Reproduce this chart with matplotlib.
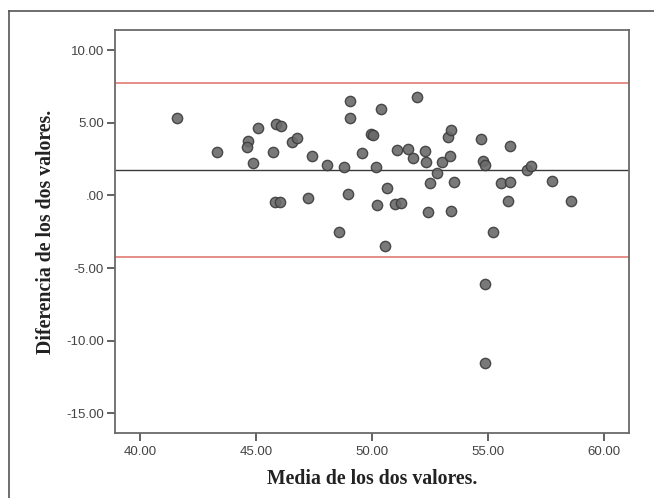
import matplotlib
matplotlib.use('Agg')
import matplotlib.pyplot as plt
from matplotlib.lines import Line2D

# Bland-Altman: media vs diferencia de los dos valores
media = [41.59, 43.34, 44.66, 44.60, 44.88, 45.07, 45.75, 45.87, 46.10, 45.82,
         46.02, 46.55, 46.78, 47.24, 47.44, 48.05, 48.57, 48.82, 48.96, 49.05,
         49.05, 49.56, 49.96, 50.07, 50.19, 50.21, 50.42, 50.55, 50.67, 51.00,
         51.26, 51.10, 51.58, 51.78, 51.95, 52.31, 52.32, 52.44, 52.52, 52.82,
         53.05, 53.30, 53.36, 53.42, 53.44, 53.56, 54.70, 54.78, 54.90, 54.90,
         54.90, 55.24, 55.58, 55.89, 55.95, 55.97, 56.71, 56.88, 57.76, 58.59]
diferencia = [5.32, 2.96, 3.78, 3.35, 2.22, 4.61, 3.00, 4.93, 4.77, -0.48,
              -0.46, 3.69, 3.94, -0.21, 2.71, 2.09, -2.55, 1.95, 0.11, 6.47,
              5.30, 2.94, 4.24, 4.15, 1.93, -0.69, 5.96, -3.46, 0.48, -0.60,
              -0.55, 3.14, 3.19, 2.55, 6.79, 3.05, 2.27, -1.17, 0.87, 1.51,
              2.27, 3.99, 2.68, 4.52, -1.06, 0.94, 3.88, 2.39, 2.06, -6.12,
              -11.51, -2.55, 0.87, -0.41, 3.39, 0.89, 1.74, 2.02, 0.96, -0.39]

media_dif = 1.74
lim_sup = 7.73
lim_inf = -4.22

xticks = [40, 45, 50, 55, 60]
yticks = [10, 5, 0, -5, -10, -15]
yticklabels = ['10.00', '5.00', '.00', '-5.00', '-10.00', '-15.00']

fig = plt.figure(figsize=(6.54, 4.98), dpi=100)
ax = fig.add_axes([0.1758, 0.1305, 0.786, 0.809])

ax.axhline(lim_sup, color='#e07a72', lw=1.2, zorder=1)
ax.axhline(lim_inf, color='#e07a72', lw=1.2, zorder=1)
ax.axhline(media_dif, color='#3a3a3a', lw=1.0, zorder=1)

ax.scatter(media, diferencia, s=55, facecolor='#6a6a6a', edgecolor='#3c3c3c',
           linewidth=1.0, alpha=0.9, zorder=3)

ax.set_xlim(38.92, 61.1)
ax.set_ylim(-16.36, 11.38)
ax.set_xticks(xticks)
ax.set_xticklabels(['%.2f' % v for v in xticks])
ax.set_yticks(yticks)
ax.set_yticklabels(yticklabels)

for s in ax.spines.values():
    s.set_color('#6a6a6a')
    s.set_linewidth(1.3)
ax.tick_params(direction='out', length=6, width=1.3, color='#555555',
               labelcolor='#444444', labelsize=9.5)
ax.tick_params(axis='x', pad=3)
ax.tick_params(axis='y', pad=2)
for lab in ax.get_xticklabels() + ax.get_yticklabels():
    lab.set_family('Liberation Sans')

ax.set_xlabel('Media de los dos valores.', family='Liberation Serif',
              fontweight='bold', fontsize=14.2, color='#222222', labelpad=8)
ax.set_ylabel('Diferencia de los dos valores.', family='Liberation Serif',
              fontweight='bold', fontsize=14.2, color='#222222', labelpad=7)

# marco exterior (solo lados izquierdo y superior visibles)
fig.add_artist(Line2D([9 / 654, 9 / 654], [0, 1 - 11 / 498], transform=fig.transFigure,
                      color='#555555', lw=1.2))
fig.add_artist(Line2D([9 / 654, 1], [1 - 11 / 498, 1 - 11 / 498], transform=fig.transFigure,
                      color='#555555', lw=1.2))

fig.savefig('out.png', dpi=100)
